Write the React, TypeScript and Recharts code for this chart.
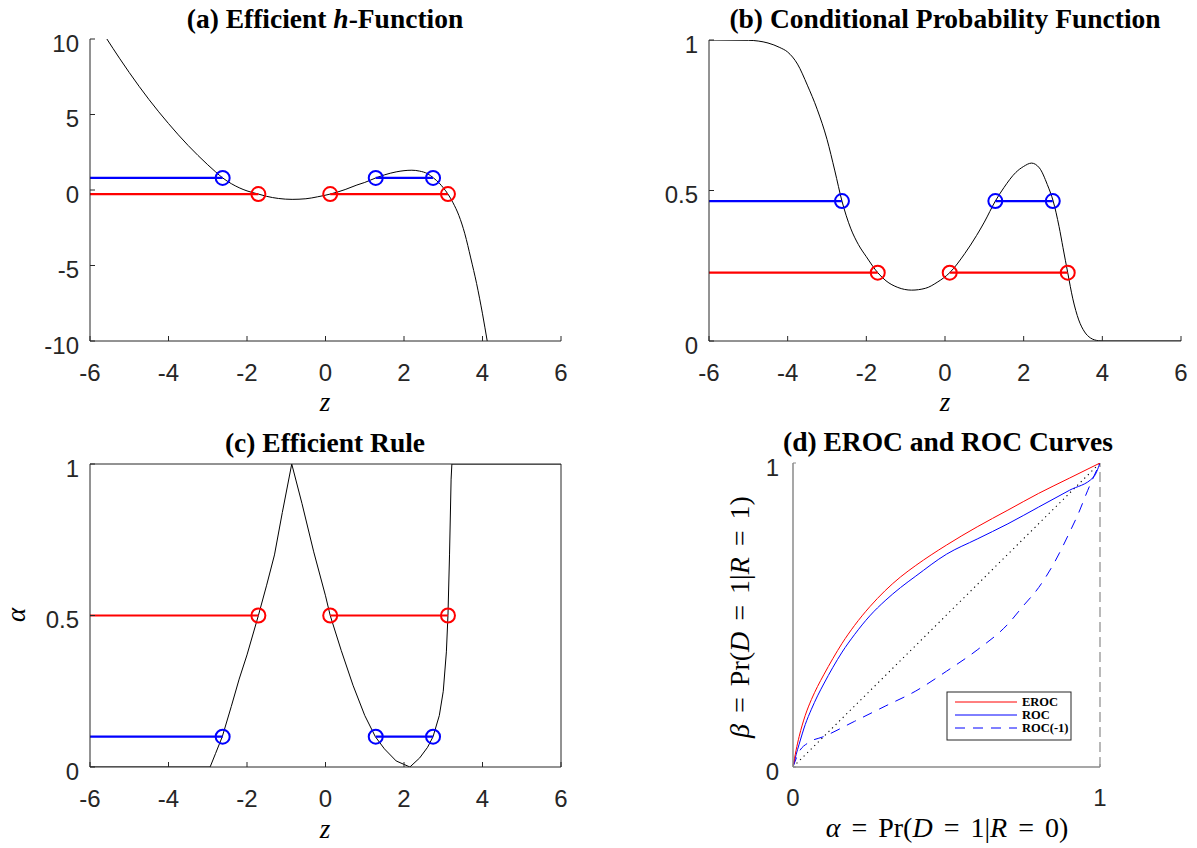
import React from 'react';
import { ComposedChart, Line, XAxis, YAxis, ReferenceLine } from 'recharts';

// ---------- shared ----------
const zTicks = [-6, -4, -2, 0, 2, 4, 6];
const zDomain = [-6, 6];
const blueCuts = [-2.62, 1.28, 2.74];
const redCuts = [-1.71, 0.12, 3.12];

// ---------- (a) efficient h-function ----------
const hZ = [-5.57, -5.25, -5, -4.5, -4, -3.5, -3.25, -3, -2.8, -2.62, -2.4, -2.2, -2, -1.71, -1.5, -1.2, -0.85, -0.5, -0.2, 0.12, 0.5, 0.8, 1.0, 1.28, 1.5, 1.8, 2.0, 2.2, 2.4, 2.6, 2.75, 2.9, 3.0, 3.12, 3.25, 3.4, 3.55, 3.7, 3.85, 4.0, 4.12];
const hVals = [10, 8.73, 7.78, 6.0, 4.4, 2.95, 2.29, 1.67, 1.2, 0.8, 0.42, 0.15, -0.06, -0.27, -0.42, -0.56, -0.62, -0.58, -0.45, -0.27, 0.03, 0.33, 0.5, 0.8, 1.0, 1.2, 1.28, 1.31, 1.25, 1.08, 0.8, 0.45, 0.15, -0.27, -0.85, -1.7, -2.9, -4.5, -6.2, -8.2, -10];
const hTicks = [-10, -5, 0, 5, 10];
const hBlue = 0.8;
const hRed = -0.27;

// ---------- (b) conditional probability ----------
const pZ = [-6, -5, -4.5, -4.2, -4, -3.75, -3.5, -3.25, -3, -2.8, -2.62, -2.4, -2.2, -2, -1.71, -1.5, -1.2, -0.85, -0.5, -0.2, 0.12, 0.5, 0.8, 1.0, 1.28, 1.5, 1.8, 2.0, 2.2, 2.4, 2.6, 2.75, 2.9, 3.0, 3.12, 3.25, 3.4, 3.55, 3.7, 3.9, 4.0, 6];
const pVals = [1.0, 0.999, 0.99, 0.975, 0.96, 0.92, 0.85, 0.77, 0.67, 0.565, 0.465, 0.375, 0.32, 0.28, 0.227, 0.2, 0.178, 0.169, 0.175, 0.195, 0.227, 0.29, 0.35, 0.395, 0.465, 0.51, 0.56, 0.58, 0.591, 0.575, 0.52, 0.465, 0.38, 0.31, 0.227, 0.14, 0.07, 0.03, 0.01, 0.001, 0, 0];
const pTicks = [0, 0.5, 1];
const pBlue = 0.465;
const pRed = 0.227;

// ---------- (c) efficient rule ----------
const aZ = [-6, -2.94, -2.8, -2.63, -2.4, -2.2, -2.0, -1.71, -1.5, -1.3, -1.1, -0.86, -0.6, -0.3, 0, 0.12, 0.4, 0.7, 1.0, 1.27, 1.5, 1.8, 2.15, 2.4, 2.6, 2.74, 2.9, 3.0, 3.08, 3.12, 3.16, 3.2, 3.22, 6];
const aVals = [0, 0, 0.045, 0.1, 0.2, 0.29, 0.37, 0.5, 0.6, 0.7, 0.84, 1, 0.87, 0.71, 0.565, 0.5, 0.385, 0.27, 0.17, 0.1, 0.06, 0.02, 0, 0.03, 0.065, 0.1, 0.17, 0.25, 0.38, 0.5, 0.7, 0.95, 1, 1];
const aTicks = [0, 0.5, 1];
const aBlue = 0.1;
const aRed = 0.5;

// ---------- (d) EROC and ROC ----------
const erocA = [0, 0.01, 0.02, 0.04, 0.06, 0.08, 0.1, 0.13, 0.16, 0.2, 0.25, 0.3, 0.35, 0.4, 0.5, 0.6, 0.7, 0.8, 0.9, 1];
const erocB = [0, 0.055, 0.1, 0.17, 0.222, 0.265, 0.303, 0.357, 0.407, 0.465, 0.527, 0.58, 0.625, 0.663, 0.73, 0.79, 0.845, 0.9, 0.95, 1];
const rocA = [0, 0.01, 0.02, 0.04, 0.06, 0.08, 0.1, 0.13, 0.16, 0.2, 0.25, 0.3, 0.35, 0.4, 0.5, 0.6, 0.7, 0.8, 0.9, 0.98, 1];
const rocB = [0, 0.04, 0.075, 0.14, 0.19, 0.234, 0.273, 0.328, 0.378, 0.435, 0.497, 0.547, 0.59, 0.628, 0.7, 0.75, 0.8, 0.855, 0.91, 0.955, 1];
const rocInvA = [0, 0.02, 0.05, 0.1, 0.2, 0.3, 0.4, 0.5, 0.6, 0.7, 0.75, 0.8, 0.85, 0.9, 0.93, 0.96, 1];
const rocInvB = [0, 0.05, 0.08, 0.1, 0.15, 0.2, 0.25, 0.315, 0.385, 0.47, 0.53, 0.59, 0.67, 0.77, 0.835, 0.91, 1];
const diagA = [0, 1];
const diagB = [0, 1];
const unitTicks = [0, 1];
const legendNames = ['EROC', 'ROC', 'ROC(-1)'];

// ---------- style ----------
const AXIS = '#262626';
const GRAY = '#8a8a8a';
const BLUE = '#0000ff';
const RED = '#ff0000';
const SANS = '"Liberation Sans", Arial, Helvetica, sans-serif';
const SERIF = '"Liberation Serif", "Times New Roman", serif';
const TICK_FS = 24;

const zip = (xs: number[], ys: number[]) => xs.map((x, i) => ({ x, y: ys[i] }));
const segs = (cuts: number[], level: number) => [
  [{ x: zDomain[0], y: level }, { x: cuts[0], y: level }],
  [{ x: cuts[1], y: level }, { x: cuts[2], y: level }],
];
const marks = (cuts: number[], level: number) => cuts.map((x) => ({ x, y: level }));

type TickOpts = { side: 'bottom' | 'left' | 'top' | 'right'; len: number; label?: boolean; off?: number; color?: string };
const makeTick = (o: TickOpts) => (props: any) => {
  const { x, y, payload } = props;
  const v = payload ? payload.value : '';
  const c = o.color || AXIS;
  let x2 = x;
  let y2 = y;
  if (o.side === 'bottom') y2 = y - o.len;
  if (o.side === 'top') y2 = y + o.len;
  if (o.side === 'left') x2 = x + o.len;
  if (o.side === 'right') x2 = x - o.len;
  let text: any = null;
  if (o.label) {
    if (o.side === 'bottom') {
      text = (
        <text x={x} y={y + (o.off || 31)} textAnchor="middle" dominantBaseline="central" fontFamily={SANS} fontSize={TICK_FS} fill={AXIS}>
          {String(v)}
        </text>
      );
    } else if (o.side === 'left') {
      text = (
        <text x={x - (o.off || 11)} y={y + 4} textAnchor="end" dominantBaseline="central" fontFamily={SANS} fontSize={TICK_FS} fill={AXIS}>
          {String(v)}
        </text>
      );
    }
  }
  return (
    <g>
      {o.len > 0 && <line x1={x} y1={y} x2={x2} y2={y2} stroke={c} strokeWidth={1} />}
      {text}
    </g>
  );
};

const circleDot = (color: string) => ({ r: 7, stroke: color, strokeWidth: 2, fill: 'none' });

function ThresholdPanel(props: {
  left: number; top: number; width: number; height: number; margin: any;
  curveZ: number[]; curveV: number[]; curveType: any;
  yDomain: number[]; yTicks: number[]; blue: number; red: number; box?: boolean;
}) {
  const { left, top, width, height, margin, curveZ, curveV, curveType, yDomain, yTicks, blue, red, box } = props;
  const blueSegs = segs(blueCuts, blue);
  const redSegs = segs(redCuts, red);
  return (
    <div style={{ position: 'absolute', left, top, width, height }}>
      <ComposedChart width={width} height={height} margin={margin}>
        <XAxis
          dataKey="x" type="number" domain={zDomain} ticks={zTicks} interval={0} allowDataOverflow
          height={50} tickSize={0} tickMargin={0} axisLine={{ stroke: AXIS, strokeWidth: 1 }}
          tickLine={false} tick={makeTick({ side: 'bottom', len: 5, label: true, off: 31 })}
        />
        <YAxis
          dataKey="y" type="number" domain={yDomain} ticks={yTicks} interval={0} allowDataOverflow
          width={60} tickSize={0} tickMargin={0} axisLine={{ stroke: AXIS, strokeWidth: 1 }}
          tickLine={false} tick={makeTick({ side: 'left', len: 5, label: true, off: 11 })}
        />
        {box && (
          <XAxis
            xAxisId="top" orientation="top" type="number" domain={zDomain} ticks={zTicks} interval={0}
            height={1} tickSize={0} tickMargin={0} axisLine={{ stroke: AXIS, strokeWidth: 1 }}
            tickLine={false} tick={makeTick({ side: 'top', len: 5 })}
          />
        )}
        {box && (
          <YAxis
            yAxisId="right" orientation="right" type="number" domain={yDomain} ticks={yTicks} interval={0}
            width={1} tickSize={0} tickMargin={0} axisLine={{ stroke: AXIS, strokeWidth: 1 }}
            tickLine={false} tick={makeTick({ side: 'right', len: 5 })}
          />
        )}
        <Line data={zip(curveZ, curveV)} dataKey="y" type={curveType} stroke="#000" strokeWidth={1} dot={false} isAnimationActive={false} />
        {redSegs.map((s, i) => (
          <Line key={'r' + i} data={s} dataKey="y" type="linear" stroke={RED} strokeWidth={2.2} dot={false} isAnimationActive={false} />
        ))}
        {blueSegs.map((s, i) => (
          <Line key={'b' + i} data={s} dataKey="y" type="linear" stroke={BLUE} strokeWidth={2.2} dot={false} isAnimationActive={false} />
        ))}
        <Line data={marks(redCuts, red)} dataKey="y" stroke="none" dot={circleDot(RED)} isAnimationActive={false} />
        <Line data={marks(blueCuts, blue)} dataKey="y" stroke="none" dot={circleDot(BLUE)} isAnimationActive={false} />
      </ComposedChart>
    </div>
  );
}

function RocPanel() {
  const left = 600, top = 420, width = 597, height = 428;
  return (
    <div style={{ position: 'absolute', left, top, width, height }}>
      <ComposedChart width={width} height={height} margin={{ top: 43, right: 97, left: 133, bottom: 31 }}>
        <XAxis
          dataKey="x" type="number" domain={[0, 1]} ticks={unitTicks} interval={0} allowDataOverflow
          height={50} tickSize={0} tickMargin={0} axisLine={{ stroke: GRAY, strokeWidth: 1.5 }}
          tickLine={false} tick={makeTick({ side: 'bottom', len: 3, label: true, off: 30, color: GRAY })}
        />
        <YAxis
          dataKey="y" type="number" domain={[0, 1]} ticks={unitTicks} interval={0} allowDataOverflow
          width={60} tickSize={0} tickMargin={0} axisLine={{ stroke: GRAY, strokeWidth: 1.5 }}
          tickLine={false} tick={makeTick({ side: 'left', len: 3, label: true, off: 14, color: GRAY })}
        />
        <ReferenceLine x={1} stroke={GRAY} strokeWidth={1.2} strokeDasharray="10 5" />
        <Line data={zip(diagA, diagB)} dataKey="y" type="linear" stroke="#000" strokeWidth={1.1} strokeDasharray="1.2 3.8" dot={false} isAnimationActive={false} />
        <Line data={zip(rocInvA, rocInvB)} dataKey="y" type="monotone" stroke={BLUE} strokeWidth={1} strokeDasharray="10 8" dot={false} isAnimationActive={false} />
        <Line data={zip(rocA, rocB)} dataKey="y" type="monotone" stroke={BLUE} strokeWidth={1} dot={false} isAnimationActive={false} />
        <Line data={zip(erocA, erocB)} dataKey="y" type="monotone" stroke={RED} strokeWidth={1} dot={false} isAnimationActive={false} />
      </ComposedChart>
    </div>
  );
}

function MathLabel(props: { x: number; y: number; first: string; last: string; rotate?: boolean }) {
  const { x, y, first, last, rotate } = props;
  const style = { fontFamily: SERIF, fontSize: 28, fill: '#000', whiteSpace: 'pre' as any };
  const eq = (k: string) => [
    <tspan key={k + 'a'} dx={4}>=</tspan>,
    <tspan key={k + 'b'} dx={4}>{' '}</tspan>,
  ];
  return (
    <text x={x} y={y} textAnchor="middle" style={style} transform={rotate ? `rotate(-90 ${x} ${y})` : undefined}>
      <tspan fontStyle="italic">{first}</tspan>{' '}
      {eq('1')}Pr(<tspan fontStyle="italic">D</tspan>{' '}
      {eq('2')}1|<tspan fontStyle="italic">R</tspan>{' '}
      {eq('3')}{last})
    </text>
  );
}

function Overlay() {
  const titleStyle = { fontFamily: SERIF, fontSize: 27.5, fontWeight: 700 as any, fill: '#000' };
  const legendColors = [RED, BLUE, BLUE];
  const legendDash = [undefined, undefined, '10 8'];
  const legendY = [702, 715, 728];
  return (
    <svg width={1197} height={848} style={{ position: 'absolute', left: 0, top: 0, pointerEvents: 'none' }}>
      <text x={325} y={28} textAnchor="middle" {...titleStyle}>
        (a) Efficient <tspan fontStyle="italic">h</tspan>-Function
      </text>
      <text x={945} y={28} textAnchor="middle" {...titleStyle}>(b) Conditional Probability Function</text>
      <text x={325} y={452} textAnchor="middle" {...titleStyle}>(c) Efficient Rule</text>
      <text x={948} y={451} textAnchor="middle" {...titleStyle}>(d) EROC and ROC Curves</text>

      <text x={325} y={411} textAnchor="middle" fontFamily={SERIF} fontSize={27} fontStyle="italic">z</text>
      <text x={945} y={411} textAnchor="middle" fontFamily={SERIF} fontSize={27} fontStyle="italic">z</text>
      <text x={325} y={838} textAnchor="middle" fontFamily={SERIF} fontSize={27} fontStyle="italic">z</text>
      <text x={25} y={615} textAnchor="middle" fontFamily={SERIF} fontSize={27} fontStyle="italic" transform="rotate(-90 25 615)">α</text>

      <MathLabel x={947} y={837} first="α" last="0" />
      <MathLabel x={749} y={617} first="β" last="1" rotate />

      <rect x={947} y={692} width={124} height={48} fill="#fff" stroke={AXIS} strokeWidth={1} />
      {legendNames.map((n, i) => (
        <g key={n}>
          <line x1={955} x2={1017} y1={legendY[i]} y2={legendY[i]} stroke={legendColors[i]} strokeWidth={1} strokeDasharray={legendDash[i]} />
          <text x={1022} y={legendY[i]} dominantBaseline="central" fontFamily={SERIF} fontSize={12.5} fontWeight={700} fill="#000">{n}</text>
        </g>
      ))}
    </svg>
  );
}

export default function App() {
  return (
    <div style={{ position: 'absolute', left: 0, top: 0, width: 1197, height: 848, background: '#fff', overflow: 'hidden' }}>
      <ThresholdPanel
        left={0} top={0} width={600} height={420}
        margin={{ top: 39, right: 39, left: 30, bottom: 29 }}
        curveZ={hZ} curveV={hVals} curveType="monotone" yDomain={[-10, 10]} yTicks={hTicks} blue={hBlue} red={hRed}
      />
      <ThresholdPanel
        left={600} top={0} width={597} height={420}
        margin={{ top: 40, right: 16, left: 49, bottom: 29 }}
        curveZ={pZ} curveV={pVals} curveType="monotone" yDomain={[0, 1]} yTicks={pTicks} blue={pBlue} red={pRed}
      />
      <ThresholdPanel
        left={0} top={420} width={600} height={428}
        margin={{ top: 43, right: 38, left: 30, bottom: 31 }}
        curveZ={aZ} curveV={aVals} curveType="linear" yDomain={[0, 1]} yTicks={aTicks} blue={aBlue} red={aRed} box
      />
      <RocPanel />
      <Overlay />
    </div>
  );
}
